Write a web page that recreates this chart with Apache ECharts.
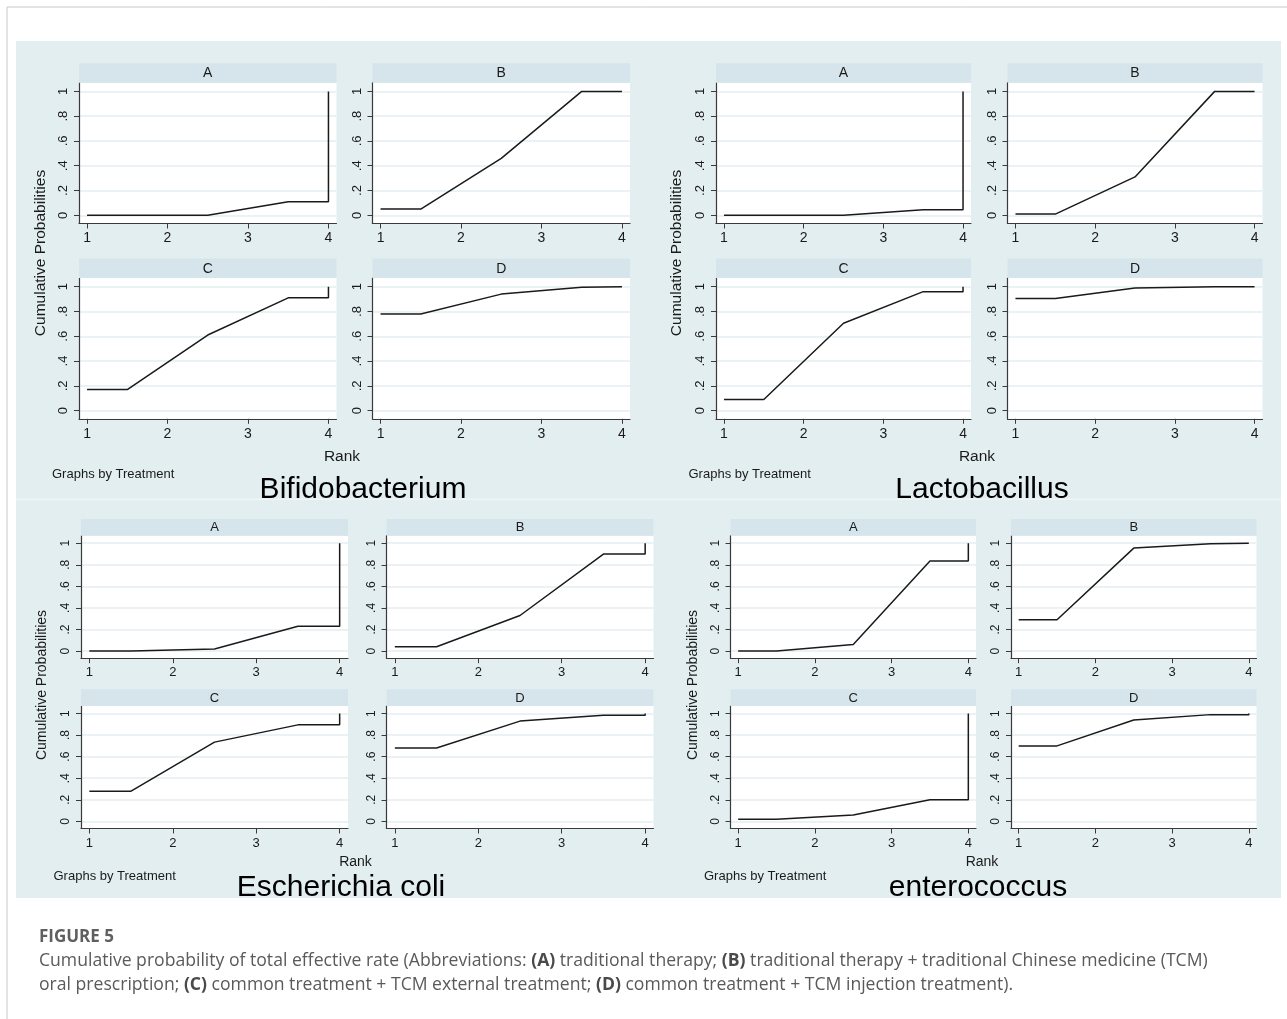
<!DOCTYPE html>
<html><head><meta charset="utf-8">
<script src="https://cdn.jsdelivr.net/npm/echarts@6/dist/echarts.min.js"></script>
<style>html,body{margin:0;padding:0;background:#fff}#c{width:1287px;height:1019px}</style>
</head><body><div id="c"></div><script>
// ---------- data ----------
const treatments = ['A', 'B', 'C', 'D'];
const outcomes = ['Bifidobacterium', 'Lactobacillus', 'Escherichia coli', 'enterococcus'];
const rankX = [1, 1.5, 2.5, 3.5, 4, 4];
const xTicks = [1, 2, 3, 4];
const yTicks = [0, 0.2, 0.4, 0.6, 0.8, 1];

const bifidoA = [0, 0, 0, 0.11, 0.11, 1];
const bifidoB = [0.05, 0.05, 0.46, 1, 1, 1];
const bifidoC = [0.17, 0.17, 0.61, 0.91, 0.91, 1];
const bifidoD = [0.78, 0.78, 0.94, 0.995, 1, 1];

const lactoA = [0, 0, 0, 0.045, 0.045, 1];
const lactoB = [0.01, 0.01, 0.31, 1, 1, 1];
const lactoC = [0.09, 0.09, 0.705, 0.96, 0.96, 1];
const lactoD = [0.905, 0.905, 0.99, 1, 1, 1];

const ecoliA = [0, 0, 0.02, 0.23, 0.23, 1];
const ecoliB = [0.04, 0.04, 0.33, 0.9, 0.9, 1];
const ecoliC = [0.28, 0.28, 0.735, 0.895, 0.895, 1];
const ecoliD = [0.68, 0.68, 0.93, 0.985, 0.985, 1];

const enteroA = [0, 0, 0.06, 0.835, 0.835, 1];
const enteroB = [0.29, 0.29, 0.955, 0.995, 1, 1];
const enteroC = [0.02, 0.02, 0.06, 0.2, 0.2, 1];
const enteroD = [0.7, 0.7, 0.94, 0.99, 0.99, 1];

// ---------- layout ----------
const FONT = '"Liberation Sans", Arial, sans-serif';
const quads = [
  { data: [bifidoA, bifidoB, bifidoC, bifidoD], cols: [79, 372.5], w: 257.5, rows: [82.7, 278], h: 140.8, head: 19.5,
    xfs: 14, yfs: 13, hfs: 14, lfs: 15.5, ylab: [41, 253], rank: [342, 457], gbt: [52, 474], title: [363, 490] },
  { data: [lactoA, lactoB, lactoC, lactoD], cols: [716, 1007.5], w: 255, rows: [82.7, 278], h: 140.8, head: 19.5,
    xfs: 14, yfs: 13, hfs: 14, lfs: 15.5, ylab: [677, 253], rank: [977, 457], gbt: [688.5, 474], title: [982, 490] },
  { data: [ecoliA, ecoliB, ecoliC, ecoliD], cols: [81, 386.5], w: 267, rows: [535.7, 706], h: 122.5, head: 16.8,
    xfs: 13, yfs: 12, hfs: 13, lfs: 14, ylab: [42, 685], rank: [355.5, 862], gbt: [53.5, 876], title: [341, 888] },
  { data: [enteroA, enteroB, enteroC, enteroD], cols: [730.5, 1011], w: 245.5, rows: [535.7, 706], h: 122.5, head: 16.8,
    xfs: 13, yfs: 12, hfs: 13, lfs: 14, ylab: [693, 685], rank: [982, 862], gbt: [704, 876], title: [978, 888] }
];
const Y_MIN = -0.066, Y_MAX = 1.07, X_MIN = 0.9, X_MAX = 4.1;

const grids = [], xAxes = [], yAxes = [], series = [];
const graphics = [
  { type: 'rect', shape: { x: 7, y: 7, width: 1300, height: 1030 }, style: { fill: 'none', stroke: '#c8c8c8', lineWidth: 1 }, z: -10 },
  { type: 'rect', shape: { x: 16, y: 41, width: 1265, height: 857 }, style: { fill: '#e2eef0' }, z: -9 },
  { type: 'rect', shape: { x: 16, y: 498.5, width: 1265, height: 1.5 }, style: { fill: '#eef5f6' }, z: -8 }
];

quads.forEach((q, qi) => {
  q.data.forEach((vals, ti) => {
    const idx = grids.length;
    const left = q.cols[ti % 2], top = q.rows[Math.floor(ti / 2)];
    grids.push({ left, top, width: q.w, height: q.h, show: true, backgroundColor: '#ffffff', borderWidth: 0,
      containLabel: false, outerBoundsMode: 'none' });
    xAxes.push({ type: 'value', gridIndex: idx, min: X_MIN, max: X_MAX,
      axisLine: { show: true, onZero: false, lineStyle: { color: '#3a3a3a', width: 1.2 } },
      axisTick: { show: true, length: 5, customValues: xTicks, lineStyle: { color: '#3a3a3a' } },
      axisLabel: { customValues: xTicks, margin: 8, color: '#1a1a1a', fontSize: q.xfs, fontFamily: FONT },
      splitLine: { show: false } });
    yAxes.push({ type: 'value', gridIndex: idx, min: Y_MIN, max: Y_MAX,
      axisLine: { show: true, onZero: false, lineStyle: { color: '#3a3a3a', width: 1.2 } },
      axisTick: { show: true, length: 5, customValues: yTicks, lineStyle: { color: '#3a3a3a' } },
      axisLabel: { customValues: yTicks, rotate: 90, margin: 9, color: '#1a1a1a', fontSize: q.yfs, fontFamily: FONT,
        formatter: v => (v === 0 ? '0' : v === 1 ? '1' : '.' + Math.round(v * 10)) },
      splitLine: { show: true, lineStyle: { color: '#e4eef2', width: 1.5 } } });
    series.push({ type: 'line', xAxisIndex: idx, yAxisIndex: idx, symbol: 'none', silent: true,
      data: rankX.map((x, i) => [x, vals[i]]),
      lineStyle: { color: '#1a1a1a', width: 1.5 } });
    // strip header
    graphics.push({ type: 'rect', shape: { x: left, y: top - q.head, width: q.w, height: q.head }, style: { fill: '#d5e5eb' }, z: 1 });
    graphics.push({ type: 'text', x: left + q.w / 2, y: top - q.head / 2 + 0.5, z: 2,
      style: { text: treatments[ti], fontSize: q.hfs, fontFamily: FONT, fill: '#1a1a1a', align: 'center', verticalAlign: 'middle' } });
  });
  graphics.push({ type: 'text', x: q.ylab[0], y: q.ylab[1], rotation: Math.PI / 2, z: 2,
    style: { text: 'Cumulative Probabilities', fontSize: q.lfs, fontFamily: FONT, fill: '#1a1a1a', align: 'center', verticalAlign: 'middle' } });
  graphics.push({ type: 'text', x: q.rank[0], y: q.rank[1], z: 2,
    style: { text: 'Rank', fontSize: q.lfs, fontFamily: FONT, fill: '#1a1a1a', align: 'center', verticalAlign: 'middle' } });
  graphics.push({ type: 'text', x: q.gbt[0], y: q.gbt[1], z: 2,
    style: { text: 'Graphs by Treatment', fontSize: 13, fontFamily: FONT, fill: '#1a1a1a', align: 'left', verticalAlign: 'middle' } });
  graphics.push({ type: 'text', x: q.title[0], y: q.title[1], z: 2,
    style: { text: outcomes[qi], fontSize: 30, fontFamily: FONT, fill: '#000', align: 'center', verticalAlign: 'middle' } });
});

// caption
const CAP = '"Open Sans", "Noto Sans", sans-serif';
const CAP_FS = 17.6;
graphics.push({ type: 'text', x: 39, y: 937, z: 2,
  style: { text: 'FIGURE 5', fontSize: 17, fontWeight: 'bold', fontFamily: CAP, fill: '#5f5f5f', verticalAlign: 'middle' } });
const capRich = { b: { fontWeight: 'bold', fontSize: CAP_FS, fontFamily: CAP, fill: '#4a4a4a' } };
graphics.push({ type: 'text', x: 39, y: 961, z: 2,
  style: { text: 'Cumulative probability of total effective rate (Abbreviations: {b|(A)} traditional therapy; {b|(B)} traditional therapy + traditional Chinese medicine (TCM)',
    rich: capRich, fontSize: CAP_FS, fontFamily: CAP, fill: '#5a5a5a', verticalAlign: 'middle' } });
graphics.push({ type: 'text', x: 39, y: 985, z: 2,
  style: { text: 'oral prescription; {b|(C)} common treatment + TCM external treatment; {b|(D)} common treatment + TCM injection treatment).',
    rich: capRich, fontSize: CAP_FS, fontFamily: CAP, fill: '#5a5a5a', verticalAlign: 'middle' } });

const chart = echarts.init(document.getElementById('c'), null, { renderer: 'canvas' });
chart.setOption({
  animation: false,
  backgroundColor: '#ffffff',
  grid: grids, xAxis: xAxes, yAxis: yAxes, series,
  graphic: { elements: graphics }
});
</script></body></html>
